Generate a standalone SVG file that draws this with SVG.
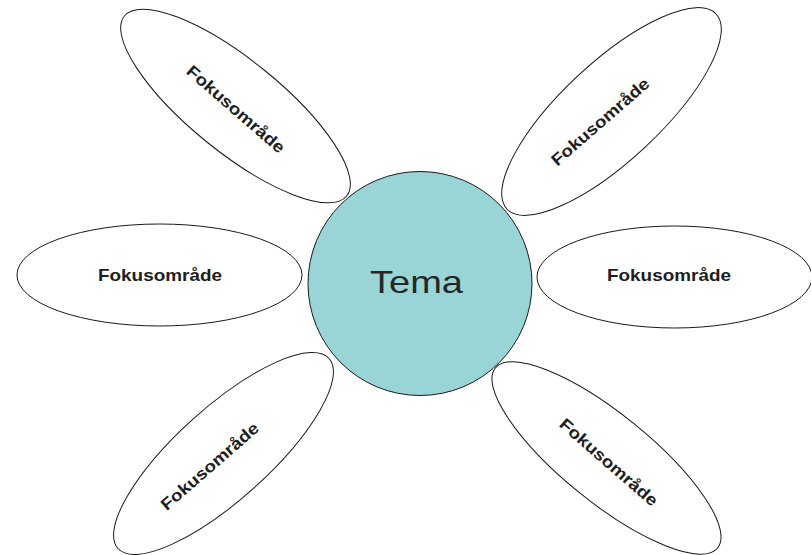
<svg xmlns="http://www.w3.org/2000/svg" width="811" height="555" viewBox="0 0 811 555">
<style>
.petal{fill:#ffffff;stroke:#1a1a1a;stroke-width:1}
.lbl{font-family:"Liberation Sans",Arial,sans-serif;font-weight:bold;font-size:16.5px;fill:#1e1e1e;text-anchor:middle}
.hub{fill:#99d5d6;stroke:#1a1a1a;stroke-width:1}
.hubtxt{font-family:"Liberation Sans",Arial,sans-serif;font-size:32px;fill:#262626;text-anchor:middle}
</style>
<rect width="811" height="555" fill="#ffffff"/>
<g id="connectors"></g>
<g id="petal-top-left">
<ellipse class="petal" cx="235.5" cy="106" rx="143" ry="46" transform="rotate(39 235.5 106)"/>
<text class="lbl" x="0" y="6" textLength="124" lengthAdjust="spacingAndGlyphs" transform="translate(236 109) rotate(41)">Fokusområde</text>
</g>
<g id="petal-top-right">
<ellipse class="petal" cx="611.5" cy="111.5" rx="143" ry="49" transform="rotate(-43 611.5 111.5)"/>
<text class="lbl" x="0" y="6" textLength="124" lengthAdjust="spacingAndGlyphs" transform="translate(600 121.5) rotate(-41)">Fokusområde</text>
</g>
<g id="petal-left">
<ellipse class="petal" cx="159.5" cy="275" rx="142.5" ry="51"/>
<text class="lbl" x="160" y="281" textLength="124" lengthAdjust="spacingAndGlyphs">Fokusområde</text>
</g>
<g id="petal-right">
<ellipse class="petal" cx="674.5" cy="277" rx="137.5" ry="51"/>
<text class="lbl" x="669" y="281" textLength="124" lengthAdjust="spacingAndGlyphs">Fokusområde</text>
</g>
<g id="petal-bottom-left">
<ellipse class="petal" cx="223.5" cy="453.5" rx="142" ry="46" transform="rotate(-42 223.5 453.5)"/>
<text class="lbl" x="0" y="6" textLength="124" lengthAdjust="spacingAndGlyphs" transform="translate(209.5 466) rotate(-41)">Fokusområde</text>
</g>
<g id="petal-bottom-right">
<ellipse class="petal" cx="606.5" cy="458" rx="143" ry="44" transform="rotate(39 606.5 458)"/>
<text class="lbl" x="0" y="6" textLength="124" lengthAdjust="spacingAndGlyphs" transform="translate(609 462) rotate(41)">Fokusområde</text>
</g>
<g id="hub">
<circle class="hub" cx="420" cy="283.5" r="112"/>
<text class="hubtxt" x="416.5" y="293" textLength="93" lengthAdjust="spacingAndGlyphs">Tema</text>
</g>
</svg>
